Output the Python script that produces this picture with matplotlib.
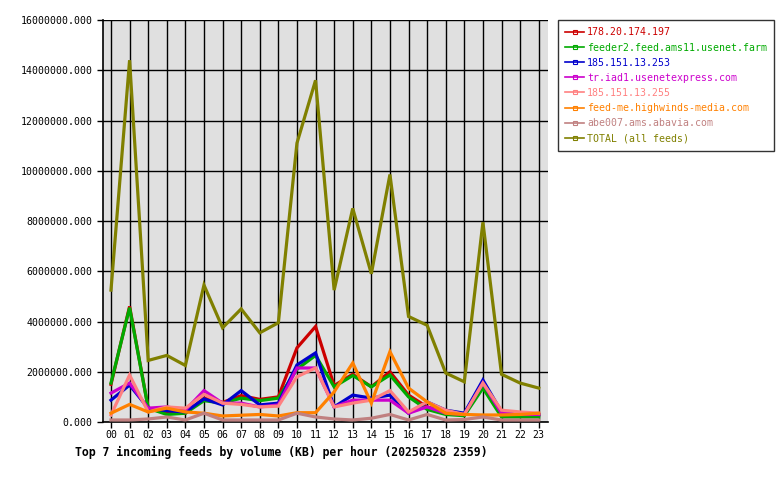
import matplotlib
matplotlib.use("Agg")
import matplotlib.pyplot as plt
from matplotlib.lines import Line2D
from matplotlib.ticker import FuncFormatter, MultipleLocator

hours = ["00", "01", "02", "03", "04", "05", "06", "07", "08", "09", "10", "11",
         "12", "13", "14", "15", "16", "17", "18", "19", "20", "21", "22", "23"]

names = ["178.20.174.197", "feeder2.feed.ams11.usenet.farm", "185.151.13.253",
         "tr.iad1.usenetexpress.com", "185.151.13.255", "feed-me.highwinds-media.com",
         "abe007.ams.abavia.com", "TOTAL (all feeds)"]
colors = ["#cc0000", "#00aa00", "#0000cc", "#cc00cc", "#ff8080", "#ff8000", "#c08080", "#808000"]

red = [1.5, 4.6, 0.55, 0.35, 0.35, 0.95, 0.78, 1.05, 0.9, 1.0, 2.95, 3.8,
       1.45, 1.9, 1.4, 2.0, 1.07, 0.6, 0.4, 0.28, 1.47, 0.35, 0.28, 0.28]
green = [1.55, 4.55, 0.55, 0.3, 0.35, 0.85, 0.75, 0.95, 0.85, 0.95, 2.1, 2.65,
         1.4, 1.85, 1.4, 1.87, 1.0, 0.5, 0.3, 0.25, 1.35, 0.2, 0.2, 0.2]
blue = [0.87, 1.47, 0.55, 0.45, 0.4, 0.92, 0.68, 1.25, 0.68, 0.75, 2.27, 2.75,
        0.6, 1.07, 0.95, 1.07, 0.35, 0.8, 0.47, 0.35, 1.67, 0.4, 0.35, 0.3]
magenta = [1.15, 1.55, 0.55, 0.6, 0.47, 1.25, 0.75, 0.75, 0.6, 0.68, 2.15, 2.15,
           0.6, 0.87, 0.87, 0.87, 0.35, 0.6, 0.35, 0.3, 1.55, 0.35, 0.3, 0.3]
salmon = [0.28, 1.87, 0.4, 0.6, 0.55, 1.1, 0.75, 0.7, 0.6, 0.63, 1.8, 2.15,
          0.6, 0.75, 0.87, 1.25, 0.4, 0.8, 0.47, 0.3, 1.55, 0.47, 0.4, 0.35]
orange = [0.35, 0.7, 0.4, 0.55, 0.4, 0.35, 0.24, 0.27, 0.3, 0.24, 0.37, 0.37,
          1.2, 2.35, 0.75, 2.8, 1.35, 0.8, 0.35, 0.3, 0.28, 0.28, 0.3, 0.35]
rosy = [0.08, 0.08, 0.12, 0.2, 0.08, 0.35, 0.08, 0.08, 0.08, 0.08, 0.35, 0.2,
        0.12, 0.08, 0.15, 0.3, 0.08, 0.3, 0.08, 0.1, 0.2, 0.08, 0.08, 0.08]
total = [5.25, 14.4, 2.45, 2.65, 2.25, 5.45, 3.75, 4.5, 3.55, 3.95, 11.1, 13.6,
         5.25, 8.5, 5.9, 9.85, 4.2, 3.85, 1.95, 1.6, 7.95, 1.9, 1.55, 1.35]

series = [red, green, blue, magenta, salmon, orange, rosy, total]

plt.rcParams['font.family'] = ['DejaVu Sans Mono']

fig = plt.figure(figsize=(7.8, 4.8), dpi=100)
ax = fig.add_axes([103/780, 1 - 422/480, (548 - 103)/780, (422 - 20)/480])
ax.set_facecolor("#e0e0e0")

x = list(range(len(hours)))
for vals, c in zip(series, colors):
    ax.plot(x, [v * 1e6 for v in vals], color=c, lw=2.3, solid_joinstyle='miter', zorder=3)

ax.set_xlim(-0.43, 23.5)
ax.set_ylim(0, 16e6)
ax.set_xticks(x)
ax.set_xticklabels(hours)
ax.yaxis.set_major_locator(MultipleLocator(2e6))
ax.yaxis.set_major_formatter(FuncFormatter(lambda v, p: f"{v:.3f}"))
ax.grid(True, color="black", lw=1.0, zorder=1)
ax.set_axisbelow(True)
ax.tick_params(axis='both', direction='out', length=4, width=1, labelsize=7.1, colors='black')
ax.tick_params(axis='x', pad=2)
ax.tick_params(axis='y', pad=3.5)
for s in ["top", "right"]:
    ax.spines[s].set_visible(False)
for s in ["left", "bottom"]:
    ax.spines[s].set_linewidth(1.2)

fig.text(75/780, 1 - 452/480, "Top 7 incoming feeds by volume (KB) per hour (20250328 2359)",
         fontsize=8.3, fontweight='bold', ha='left', va='center')

handles = [Line2D([0], [0], color=c, lw=1.2, marker='s', markersize=2.5,
                  markerfacecolor='none', markeredgewidth=0.8) for c in colors]
leg = fig.legend(handles, names, loc='upper left', bbox_to_anchor=(558/780, 1 - 20/480),
                 borderaxespad=0, fontsize=7.1, frameon=True, fancybox=False, edgecolor='black',
                 handlelength=1.9, handletextpad=0.3, labelspacing=0.52, borderpad=0.75)
leg.get_frame().set_linewidth(1.0)
for t, c in zip(leg.get_texts(), colors):
    t.set_color(c)

fig.savefig("out.png", dpi=100)
